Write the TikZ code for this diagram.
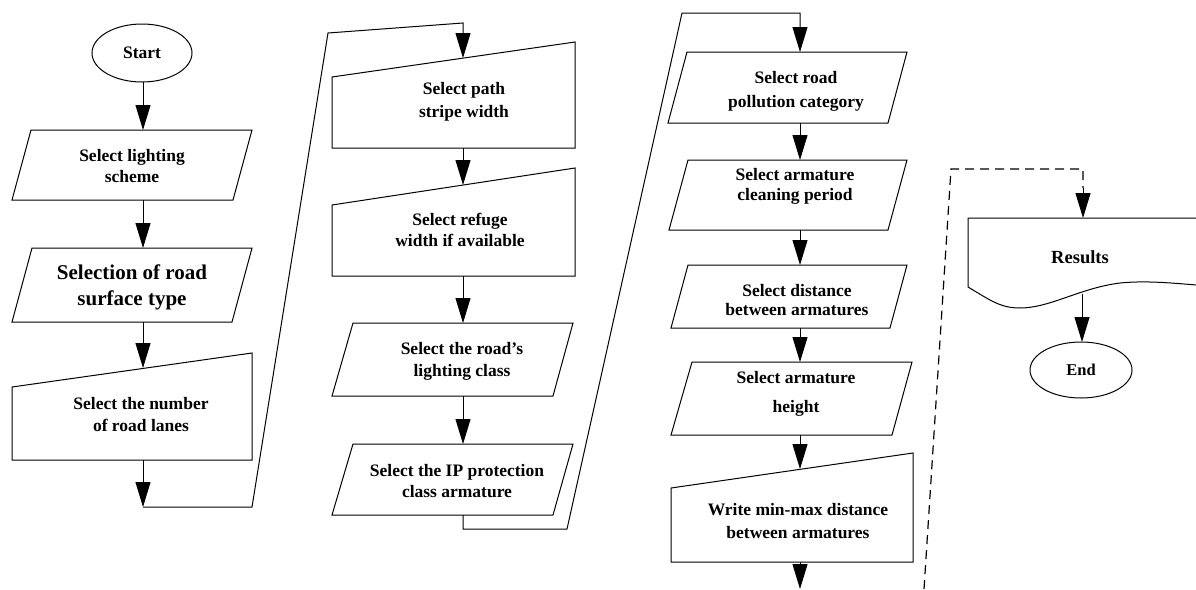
\documentclass[tikz,border=0pt]{standalone}
\usepackage{fontspec}
\setmainfont{Liberation Serif}
\usetikzlibrary{arrows.meta}
\tikzset{
  shp/.style={draw, line width=1pt, line join=miter},
  lin/.style={draw, line width=1pt, line join=miter},
  arr/.style={draw, line width=1pt, -{Triangle[length=25pt,width=15pt]}},
  dsh/.style={draw, line width=1.2pt, dash pattern=on 9pt off 6pt},
  txt/.style={align=center, font=\fontsize{17.5}{21}\selectfont\bfseries, inner sep=0pt},
}
\begin{document}
\begin{tikzpicture}[x=1pt,y=-1pt]
\useasboundingbox (0,0) rectangle (1196,589);
\clip (0,0) rectangle (1196,589);

% ---------- column 1 ----------
\draw[shp] (142,53) ellipse [x radius=50, y radius=29];
\node[txt] (start) at (142,53) {Start};
\coordinate (startb) at (143,82);

\draw[shp] (31,130) -- (252,130) -- (233,200) -- (12,200) -- cycle;
\node[txt] (p1) at (132,166) {Select lighting\\scheme};
\coordinate (p1t) at (143,130); \coordinate (p1b) at (143,200);

\draw[shp] (32,248) -- (252,248) -- (232,322) -- (12,322) -- cycle;
\node[txt, font=\fontsize{21}{26}\selectfont\bfseries] (p2) at (132,287) {Selection of road\\surface type};
\coordinate (p2t) at (143,248); \coordinate (p2b) at (143,322);

\draw[shp] (12,387) -- (252,353) -- (252,460) -- (12,460) -- cycle;
\node[txt, font=\fontsize{17.5}{22}\selectfont\bfseries] (m1) at (141,415) {Select the number\\of road lanes};
\coordinate (m1t) at (143,368); \coordinate (m1b) at (143,460);

\coordinate (c1) at (143,507);
\coordinate (c2) at (252,507);
\coordinate (c3) at (328,33);
\coordinate (c4) at (463,23);

% ---------- column 2 ----------
\draw[shp] (332,77) -- (575,42) -- (575,148) -- (332,148) -- cycle;
\node[txt, font=\fontsize{17.5}{23}\selectfont\bfseries] (m2) at (464,102) {Select path\\stripe width};
\coordinate (m2t) at (463,58); \coordinate (m2b) at (463,148);

\draw[shp] (332,205) -- (575,168) -- (575,276) -- (332,276) -- cycle;
\node[txt] (m3) at (460,230) {Select refuge\\width if available};
\coordinate (m3t) at (463,185); \coordinate (m3b) at (463,276);

\draw[shp] (353,323) -- (573,323) -- (553,396) -- (332,396) -- cycle;
\node[txt, font=\fontsize{17.5}{22}\selectfont\bfseries] (p3) at (462,361) {Select the road's\\lighting class};
\coordinate (p3t) at (463,323); \coordinate (p3b) at (463,396);

\draw[shp] (353,444) -- (573,444) -- (553,515) -- (332,515) -- cycle;
\node[txt] (p4) at (457,481) {Select the IP protection\\class armature};
\coordinate (p4t) at (463,444); \coordinate (p4b) at (463,515);

\coordinate (d1) at (463,529);
\coordinate (d2) at (567,529);
\coordinate (d3) at (682,13);
\coordinate (d4) at (800,13);

% ---------- column 3 ----------
\draw[shp] (687,52) -- (907,52) -- (888,123) -- (668,123) -- cycle;
\node[txt, font=\fontsize{17.5}{24}\selectfont\bfseries] (p5) at (796,91) {Select road\\pollution category};
\coordinate (p5t) at (800,52); \coordinate (p5b) at (800,123);

\draw[shp] (688,160) -- (907,160) -- (888,230) -- (669,230) -- cycle;
\node[txt, font=\fontsize{17.5}{20}\selectfont\bfseries] (p6) at (795,186) {Select armature\\cleaning period};
\coordinate (p6t) at (800,160); \coordinate (p6b) at (800,230);

\draw[shp] (688,265) -- (907,265) -- (890,328) -- (671,328) -- cycle;
\node[txt, font=\fontsize{17.5}{19}\selectfont\bfseries] (p7) at (797,300) {Select distance\\between armatures};
\coordinate (p7t) at (800,265); \coordinate (p7b) at (800,328);

\draw[shp] (692,362) -- (912,362) -- (892,435) -- (671,435) -- cycle;
\node[txt, font=\fontsize{17.5}{29}\selectfont\bfseries] (p8) at (796,394) {Select armature\\height};
\coordinate (p8t) at (800,362); \coordinate (p8b) at (800,435);

\draw[shp] (671,488) -- (913,453) -- (913,562) -- (671,562) -- cycle;
\node[txt, font=\fontsize{17.5}{23}\selectfont\bfseries] (m4) at (798,521) {Write min-max distance\\between armatures};
\coordinate (m4t) at (800,469); \coordinate (m4b) at (800,562);
\coordinate (out) at (800,589);

% ---------- column 4 ----------
\coordinate (e1) at (924,589);
\coordinate (e2) at (951,169);
\coordinate (e3) at (1083,169);
\coordinate (e4) at (1083,188);
\coordinate (rest) at (1083,218);

\draw[shp] (1210,218) -- (968,218) -- (968,287)
  .. controls (990,300) and (1000,308) .. (1020,308)
  .. controls (1050,308) and (1080,288) .. (1120,283)
  .. controls (1150,280) and (1180,284) .. (1210,286);
\node[txt, font=\fontsize{18.5}{22}\selectfont\bfseries] (res) at (1080,257) {Results};
\coordinate (resb) at (1082,294);

\draw[shp] (1081,370) ellipse [x radius=51, y radius=28];
\node[txt, font=\fontsize{16.5}{20}\selectfont\bfseries] (endn) at (1081,370) {End};
\coordinate (endt) at (1082,342);

% ---------- connectors ----------
\draw[arr] (startb) -- (p1t);
\draw[arr] (p1b) -- (p2t);
\draw[arr] (p2b) -- (m1t);
\draw[arr] (m1b) -- (c1);
\draw[arr] (c1) -- (c2) -- (c3) -- (c4) -- (m2t);
\draw[arr] (m2b) -- (m3t);
\draw[arr] (m3b) -- (p3t);
\draw[arr] (p3b) -- (p4t);
\draw[arr] (p4b) -- (d1) -- (d2) -- (d3) -- (d4) -- (p5t);
\draw[arr] (p5b) -- (p6t);
\draw[arr] (p6b) -- (p7t);
\draw[arr] (p7b) -- (p8t);
\draw[arr] (p8b) -- (m4t);
\draw[arr] (m4b) -- (out);
\draw[dsh] (e1) -- (e2) -- (e3) -- (e4);
\draw[arr] (e4) -- (rest);
\draw[arr] (resb) -- (endt);
\end{tikzpicture}
\end{document}
